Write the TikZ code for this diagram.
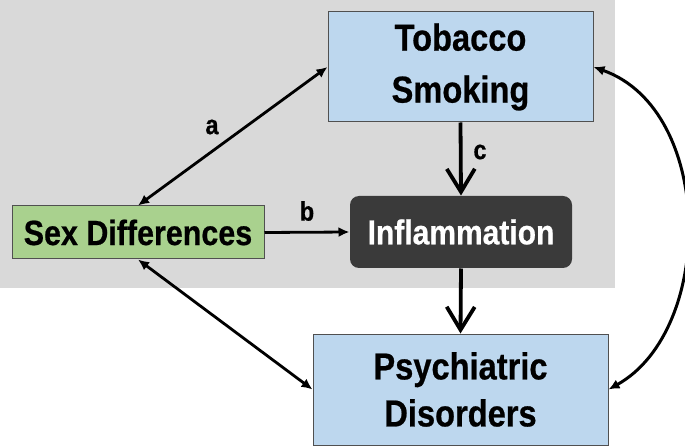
\documentclass[tikz,border=0pt]{standalone}
\usepackage{fontspec}
\setmainfont{Liberation Sans}
\newfontfamily\nar[FakeStretch=0.87,FakeBold=0.6]{Liberation Sans}
\usetikzlibrary{arrows.meta}
\definecolor{bggray}{HTML}{D9D9D9}
\definecolor{boxblue}{HTML}{BDD7EE}
\definecolor{boxgreen}{HTML}{A9D18E}
\definecolor{boxdark}{HTML}{3A3A3A}
\definecolor{edgegray}{HTML}{505050}
\tikzset{
  box/.style={draw=edgegray, line width=1pt, inner sep=0pt, align=center},
  bluebox/.style={box, fill=boxblue},
  greenbox/.style={box, fill=boxgreen},
  darkbox/.style={box, draw=none, fill=boxdark, rounded corners=9pt, text=white},
  lbl/.style={font=\nar\bfseries\fontsize{27}{30}\selectfont, inner sep=0pt},
  twoway/.style={line width=2.8pt, {Latex[length=11pt,width=10pt]}-{Latex[length=11pt,width=10pt]}},
  oneway/.style={line width=2.8pt, -{Latex[length=11pt,width=10pt]}},
  bigarrow/.style={line width=3.8pt, -{Straight Barb[length=23pt,width=28pt]}},
  curvearrow/.style={line width=3pt, {Latex[length=11pt,width=10pt]}-{Latex[length=11pt,width=10pt]}}
}
\begin{document}
\begin{tikzpicture}[x=1pt,y=-1pt]
\useasboundingbox (0,0) rectangle (685,446);
\fill[bggray] (0,0) rectangle (615,288);
\node[bluebox, minimum width=265pt, minimum height=110pt,
  font=\nar\bfseries\fontsize{37.5}{52}\selectfont] (tob) at (460.5,67) {Tobacco\\Smoking};
\node[greenbox, minimum width=252pt, minimum height=53pt,
  font=\nar\bfseries\fontsize{35}{40}\selectfont] (sex) at (138,232.5) {Sex Differences};
\node[darkbox, minimum width=222pt, minimum height=72pt,
  font=\nar\bfseries\fontsize{34.5}{40}\selectfont] (inf) at (461,232) {Inflammation};
\node[bluebox, minimum width=295pt, minimum height=111pt,
  font=\nar\bfseries\fontsize{37.5}{47}\selectfont] (psy) at (460.5,389.5) {Psychiatric\\Disorders};
\draw[twoway] (sex.north) -- (tob.west);
\draw[twoway] (sex.south) -- (psy.west);
\draw[oneway] (sex.east) -- (inf.west);
\draw[bigarrow] (tob.south) -- (inf.north);
\draw[bigarrow] (inf.south) -- (psy.north);
\draw[curvearrow] (tob.east) .. controls (715,110) and (715,330) .. (psy.east);
\node[lbl] (la) at (212,127) {a};
\node[lbl] (lb) at (307,211) {b};
\node[lbl] (lc) at (480,152) {c};
\end{tikzpicture}
\end{document}
